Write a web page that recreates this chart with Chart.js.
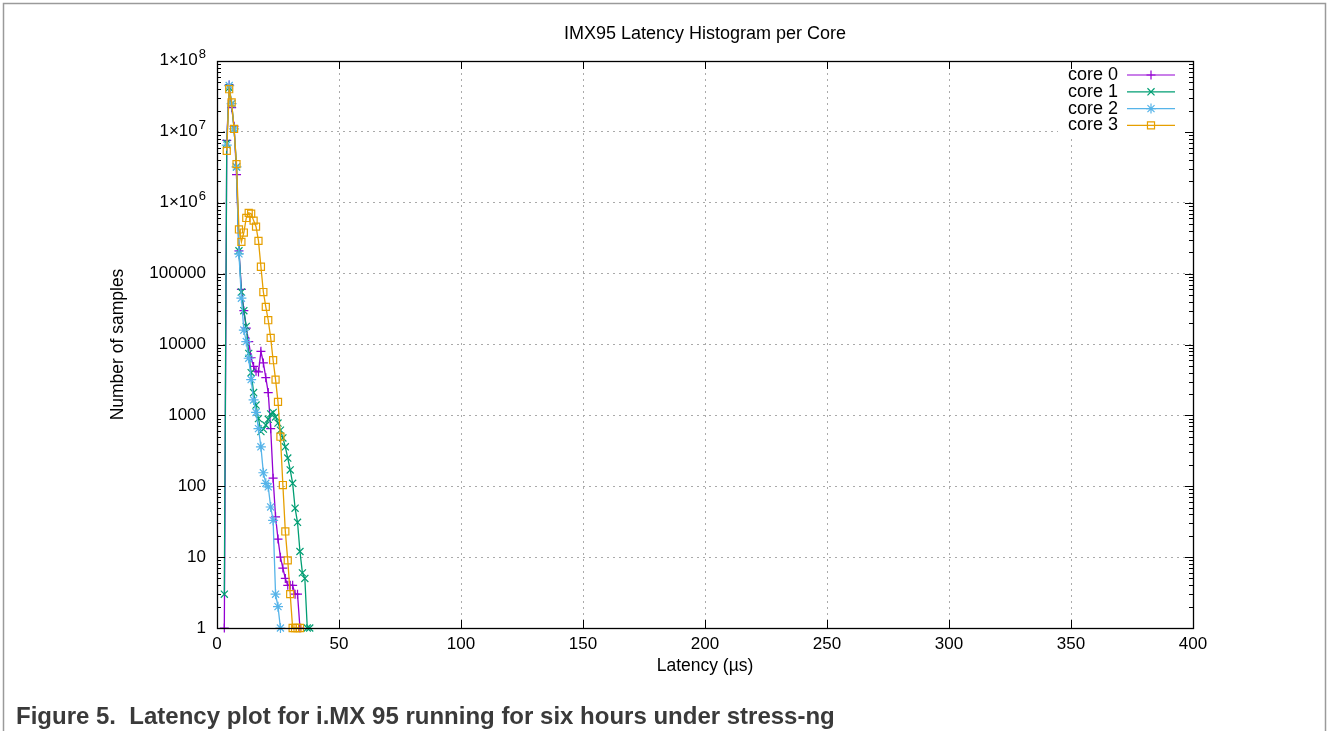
<!DOCTYPE html>
<html>
<head>
<meta charset="utf-8">
<script src="https://cdn.jsdelivr.net/npm/chart.js@4.4.0/dist/chart.umd.min.js"></script>
<style>
  html, body { margin: 0; padding: 0; background: #fff; }
  #wrap { position: relative; width: 1329px; height: 731px; }
</style>
</head>
<body>
<div id="wrap"><canvas id="latencyChart" width="1329" height="731"></canvas></div>
<script>
// latency bins (µs) shared by all cores
const latency = [3, 4, 5, 6, 7, 8, 9, 10, 11, 12, 13, 14, 15, 16, 17, 18, 19, 20,
  21, 22, 23, 24, 25, 26, 27, 28, 29, 30, 31, 32, 33, 34, 35, 36, 37, 38];

const core0 = [1, 7600000, 46000000, 22000000, 12000000, 2500000, 210000, 60000, 30000, 17000,
  11000, 6500, 4900, 4200, 4100, 8000, 5500, 3400, 2100, 650, 130, 37, 18, 10, 7, 5, 4, 4, 4, 3,
  3, 1, null, null, null, null];
const core1 = [3, 6900000, 42000000, 25000000, 11000000, 3200000, 210000, 55000, 30000, 18000,
  7500, 4000, 2100, 1400, 900, 590, 640, 730, 880, 1050, 1100, 950, 780, 620, 480, 360, 250, 170,
  110, 49, 31, 12, 6, 5, 1, 1];
const core2 = [null, 6500000, 45000000, 25000000, 11000000, 3200000, 190000, 45000, 16000, 11000,
  6400, 3200, 1650, 1100, 650, 360, 155, 110, 98, 51, 33, 3, 2, 1, null, null, null, null, null,
  null, null, null, null, null, null, null];
const core3 = [null, 5400000, 40000000, 26000000, 11000000, 3500000, 420000, 280000, 380000, 610000,
  720000, 700000, 560000, 460000, 290000, 125000, 55000, 34000, 22000, 12400, 6000, 3200, 1550, 500,
  104, 23, 9, 3, 1, 1, 1, 1, null, null, null, null];

const seriesNames = ["core 0", "core 1", "core 2", "core 3"];
const seriesCounts = [core0, core1, core2, core3];
const seriesColors = ["#9400d3", "#009e73", "#56b4e9", "#e69f00"];
const seriesMarkers = ["cross", "crossRot", "star", "rect"];
const markerRadius = [4.5, 5, 5, 5];

const xTicks = [0, 50, 100, 150, 200, 250, 300, 350, 400];
const yTicks = [1, 10, 100, 1000, 10000, 100000, 1000000, 10000000, 100000000];
// plain labels; the 10^n ones get an exponent drawn as a superscript
const yTickLabels = ["1", "10", "100", "1000", "10000", "100000", "1×10", "1×10", "1×10"];
const yTickExponents = ["", "", "", "", "", "", "6", "7", "8"];

const chartTitle = "IMX95 Latency Histogram per Core";
const caption = "Figure 5.  Latency plot for i.MX 95 running for six hours under stress-ng";

const FONT = "'Liberation Sans', Arial, sans-serif";
Chart.defaults.font.family = FONT;
Chart.defaults.font.size = 17;
Chart.defaults.color = "#000";

// gnuplot-like frame, inward ticks, key, title and the document caption
const gnuplotDecor = {
  id: "gnuplotDecor",
  afterDatasetsDraw(chart) {
    const ctx = chart.ctx;
    const a = chart.chartArea;
    const xs = chart.scales.x;
    const ys = chart.scales.y;
    ctx.save();

    // opaque key box
    ctx.fillStyle = "#fff";
    ctx.fillRect(1058, a.top + 1, a.right - 1059, 76);

    ctx.strokeStyle = "#000";
    ctx.lineWidth = 1;
    ctx.beginPath();
    xTicks.forEach((v) => {
      const px = Math.round(xs.getPixelForValue(v)) + 0.5;
      ctx.moveTo(px, a.bottom); ctx.lineTo(px, a.bottom - 8);
      ctx.moveTo(px, a.top); ctx.lineTo(px, a.top + 8);
    });
    yTicks.forEach((v, k) => {
      const py = Math.round(ys.getPixelForValue(v)) + 0.5;
      ctx.moveTo(a.left, py); ctx.lineTo(a.left + 8, py);
      ctx.moveTo(a.right, py); ctx.lineTo(a.right - 8, py);
      if (k < yTicks.length - 1) {
        for (let m = 2; m <= 9; m++) {
          const pm = Math.round(ys.getPixelForValue(v * m)) + 0.5;
          ctx.moveTo(a.left, pm); ctx.lineTo(a.left + 4, pm);
          ctx.moveTo(a.right, pm); ctx.lineTo(a.right - 4, pm);
        }
      }
    });
    ctx.stroke();
    ctx.lineWidth = 1.3;
    ctx.strokeRect(Math.round(a.left) + 0.5, Math.round(a.top) + 0.5,
      Math.round(a.right - a.left), Math.round(a.bottom - a.top));

    // exponent labels 1×10^n
    ctx.fillStyle = "#000";
    ctx.textAlign = "right";
    ctx.textBaseline = "alphabetic";
    yTicks.forEach((v, k) => {
      if (!yTickExponents[k]) return;
      const py = ys.getPixelForValue(v);
      const xr = a.left - 11;
      ctx.font = "13px " + FONT;
      const supW = ctx.measureText(yTickExponents[k]).width;
      ctx.fillText(yTickExponents[k], xr, py - 3);
      ctx.font = "17px " + FONT;
      ctx.fillText(yTickLabels[k], xr - supW - 1, py + 4);
    });

    // key
    ctx.font = "18px " + FONT;
    ctx.textAlign = "right";
    ctx.textBaseline = "middle";
    chart.data.datasets.forEach((ds, i) => {
      const y = 75 + i * 16.8;
      ctx.fillStyle = "#000";
      ctx.fillText(ds.label, 1118, y);
      ctx.strokeStyle = ds.borderColor;
      ctx.lineWidth = 1.2;
      ctx.beginPath();
      ctx.moveTo(1127, y); ctx.lineTo(1175, y);
      ctx.stroke();
      ctx.fillStyle = "rgba(0,0,0,0)";
      Chart.helpers.drawPoint(ctx, {
        pointStyle: ds.pointStyle, radius: ds.pointRadius, borderWidth: 1.2, rotation: 0
      }, 1151, y);
    });

    // title
    ctx.fillStyle = "#000";
    ctx.textAlign = "center";
    ctx.font = "18px " + FONT;
    ctx.fillText(chartTitle, (a.left + a.right) / 2, 34);
    ctx.restore();
  },
  afterDraw(chart) {
    const ctx = chart.ctx;
    ctx.save();
    ctx.strokeStyle = "#9a9a9a";
    ctx.lineWidth = 1.5;
    ctx.beginPath();
    ctx.moveTo(3.5, 731); ctx.lineTo(3.5, 3.5); ctx.lineTo(1325.5, 3.5); ctx.lineTo(1325.5, 731);
    ctx.stroke();
    ctx.fillStyle = "#3a3a3a";
    ctx.font = "bold 24px " + FONT;
    ctx.textAlign = "left";
    ctx.textBaseline = "alphabetic";
    ctx.fillText(caption, 16, 724);
    ctx.restore();
  }
};

const ctx = document.getElementById("latencyChart").getContext("2d");
new Chart(ctx, {
  type: "line",
  data: {
    datasets: seriesNames.map((name, i) => ({
      label: name,
      data: latency.map((x, j) => ({ x: x, y: seriesCounts[i][j] })),
      borderColor: seriesColors[i],
      backgroundColor: "rgba(0,0,0,0)",
      borderWidth: 1.3,
      pointStyle: seriesMarkers[i],
      pointRadius: markerRadius[i],
      pointBorderWidth: 1.2,
      pointBorderColor: seriesColors[i],
      pointBackgroundColor: "rgba(0,0,0,0)",
      tension: 0,
      spanGaps: false,
      clip: false,
      order: 3 - i,
    })),
  },
  options: {
    responsive: false,
    animation: false,
    layout: { padding: { left: 0, top: 61, right: 136, bottom: 0 } },
    plugins: {
      legend: { display: false },
      tooltip: { enabled: false },
    },
    scales: {
      x: {
        type: "linear",
        min: 0,
        max: 400,
        afterBuildTicks: (scale) => {
          scale.ticks = xTicks.map((v) => ({ value: v }));
        },
        afterFit: (scale) => { scale.height = 103; },
        ticks: { padding: 6, autoSkip: false, maxRotation: 0 },
        grid: { color: "#aaaaaa", lineWidth: 1, drawTicks: false },
        border: { display: false, dash: [2, 4] },
        title: {
          display: true,
          text: "Latency (µs)",
          font: { size: 17.5 },
          padding: { top: 0, bottom: 54.5 },
        },
      },
      y: {
        type: "logarithmic",
        min: 1,
        max: 100000000,
        afterBuildTicks: (scale) => {
          scale.ticks = yTicks.map((v) => ({ value: v, major: true }));
        },
        afterFit: (scale) => { scale.width = 217; },
        ticks: {
          padding: 11,
          autoSkip: false,
          callback: (v) => {
            const k = yTicks.indexOf(v);
            return k >= 0 && !yTickExponents[k] ? yTickLabels[k] : "";
          },
        },
        grid: { color: "#aaaaaa", lineWidth: 1, drawTicks: false },
        border: { display: false, dash: [2, 4] },
        title: {
          display: true,
          text: "Number of samples",
          font: { size: 17.5 },
          padding: { top: 107.5, bottom: 0 },
        },
      },
    },
  },
  plugins: [gnuplotDecor],
});
</script>
</body>
</html>
